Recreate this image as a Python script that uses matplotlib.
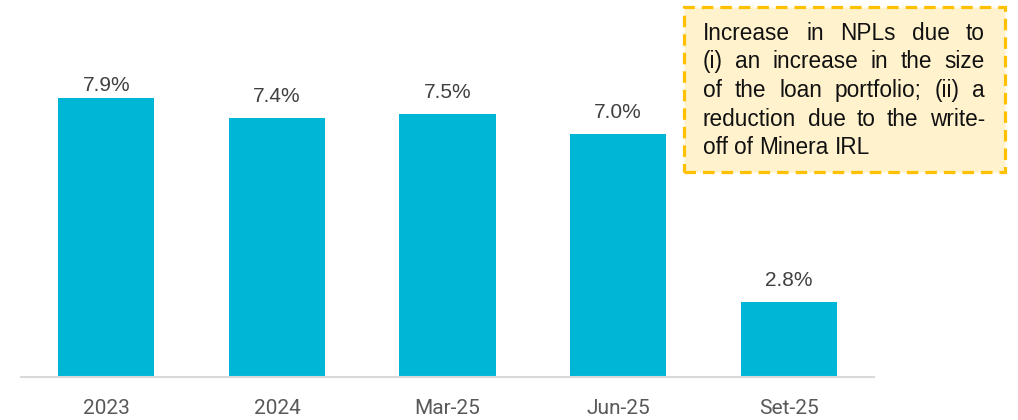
import matplotlib
matplotlib.use("Agg")
import matplotlib.pyplot as plt
from matplotlib.patches import Rectangle

# data
periods = ["2023", "2024", "Mar-25", "Jun-25", "Set-25"]
npl_ratio = [7.9, 7.4, 7.5, 7.0, 2.8]
note_lines = [
    "Increase in NPLs due to",
    "(i) an increase in the size",
    "of the loan portfolio; (ii) a",
    "reduction due to the write-",
    "off of Minera IRL",
]

W, H = 1018, 420
fig = plt.figure(figsize=(W / 100, H / 100), dpi=100)
ax = fig.add_axes([21 / W, 1 - 377 / H, 853 / W, 377 / H])

x = range(len(periods))
bars = ax.bar(x, npl_ratio, width=0.565, color="#00B6D6", zorder=2)
ax.set_xlim(-0.5, len(periods) - 0.5)
ax.set_ylim(0.925, 10.35)

# labels sit above the bars, but are kept inside the plot area (like PowerPoint)
label_cap = 8.08
for b, v in zip(bars, npl_ratio):
    ax.text(b.get_x() + b.get_width() / 2, min(v + 0.4, label_cap),
            f"{v:.1f}%", ha="center", va="baseline", fontsize=15,
            family="Liberation Sans", color="#404040")

for s in ["top", "right", "left"]:
    ax.spines[s].set_visible(False)
ax.spines["bottom"].set_color("#D9D9D9")
ax.spines["bottom"].set_linewidth(1.5)
ax.set_yticks([])
ax.set_xticks(list(x))
ax.set_xticklabels(periods, fontsize=15, family="Roboto", color="#595959")
ax.tick_params(axis="x", length=0, pad=16)

# note box
box = Rectangle((684 / W, 1 - 172 / H), 321 / W, 165 / H,
                transform=fig.transFigure, facecolor="#FFF2CC",
                edgecolor="#FFC000", linewidth=2.3,
                linestyle=(0, (3.6, 2.2)), zorder=3)
fig.patches.append(box)

# justified text inside the box
x0, x1 = 703, 985
y_first, line_step = 33, 28.7
fig.canvas.draw()
renderer = fig.canvas.get_renderer()
tkw = dict(fontsize=16.3, family="Liberation Sans", color="#111111",
           va="center", ha="left", zorder=4)
for i, line in enumerate(note_lines):
    ypos = 1 - (y_first + i * line_step) / H
    words = line.split()
    texts = [fig.text(0, ypos, w, **tkw) for w in words]
    widths = [t.get_window_extent(renderer).width for t in texts]
    if i < len(note_lines) - 1 and len(words) > 1:
        gap = (x1 - x0 - sum(widths)) / (len(words) - 1)
    else:
        sw = fig.text(0, 0, "a a", **tkw).get_window_extent(renderer).width
        aw = fig.text(0, 0, "aa", **tkw).get_window_extent(renderer).width
        gap = sw - aw
        fig.texts = fig.texts[:-2]
    cur = x0
    for t, wd in zip(texts, widths):
        t.set_x(cur / W)
        cur += wd + gap

fig.savefig("out.png", dpi=100)
